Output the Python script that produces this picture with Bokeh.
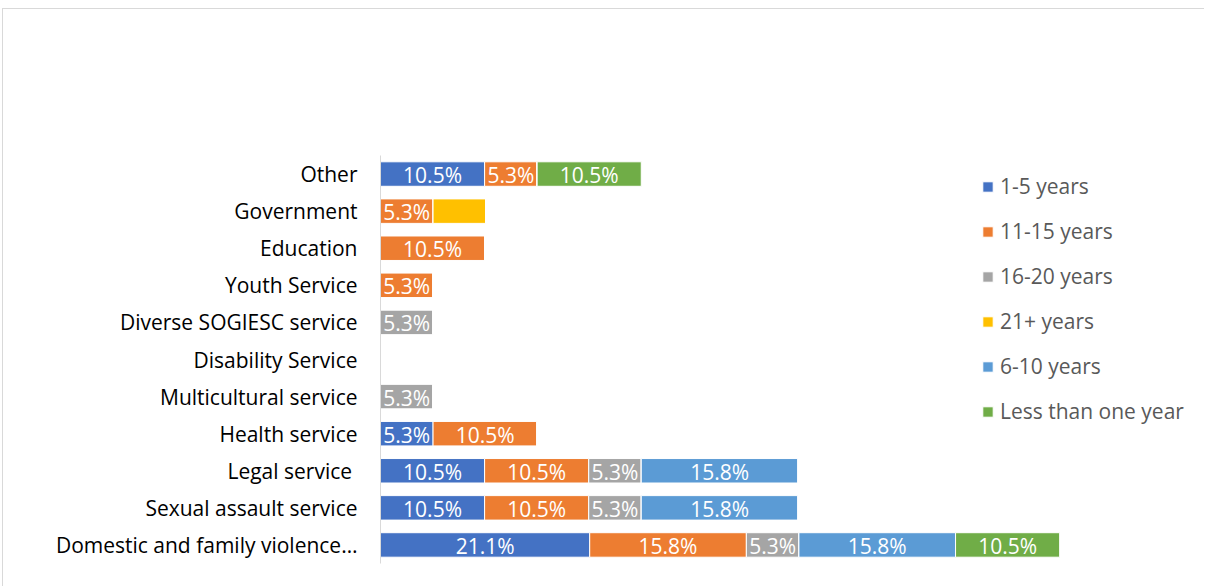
from bokeh.plotting import figure
from bokeh.models import FactorRange, ColumnDataSource, LabelSet, Legend, LegendItem, Range1d
from bokeh.core.properties import value
from bokeh.embed import file_html
from bokeh.resources import INLINE

# Categories (bottom to top)
categories = ["Domestic and family violence\u2026", "Sexual assault service", "Legal service ",
              "Health service", "Multicultural service", "Disability Service",
              "Diverse SOGIESC service", "Youth Service", "Education", "Government", "Other"]

series_names = ["1-5 years", "11-15 years", "16-20 years", "21+ years", "6-10 years", "Less than one year"]
colors = ["#4472C4", "#ED7D31", "#A5A5A5", "#FFC000", "#5B9BD5", "#70AD47"]

y1_5 =   [21.1, 10.5, 10.5, 5.3, 0, 0, 0, 0, 0, 0, 10.5]
y11_15 = [15.8, 10.5, 10.5, 10.5, 0, 0, 0, 5.3, 10.5, 5.3, 5.3]
y16_20 = [5.3, 5.3, 5.3, 0, 5.3, 0, 5.3, 0, 0, 0, 0]
y21p =   [0, 0, 0, 0, 0, 0, 0, 0, 0, 5.3, 0]
y6_10 =  [15.8, 15.8, 15.8, 0, 0, 0, 0, 0, 0, 0, 0]
ylt1 =   [10.5, 0, 0, 0, 0, 0, 0, 0, 0, 0, 10.5]
# which series show data labels
show_labels = [True, True, True, False, True, True]

series_vals = [y1_5, y11_15, y16_20, y21p, y6_10, ylt1]
keys = ["s%d" % i for i in range(len(series_names))]

data = {"cat": categories}
for k, v in zip(keys, series_vals):
    data[k] = v
source = ColumnDataSource(data)

FONT = "Open Sans"
W, H = 1202, 578

p = figure(y_range=FactorRange(*categories, range_padding=0), x_range=Range1d(0, 82.2),
           width=W, height=H, output_backend="svg", toolbar_location=None,
           min_border_left=377, min_border_right=10, min_border_top=146, min_border_bottom=24)
p.styles = {"border-left": "1px solid #d9d9d9", "border-top": "1px solid #d9d9d9",
            "margin-left": "2px", "margin-top": "8px"}
p.y_range.factor_padding = 0
p.y_range.range_padding = 0

renderers = p.hbar_stack(keys, y="cat", height=0.66, color=colors, source=source,
                         line_color="white", line_width=1)

# data labels
lx, ly, lt = [], [], []
for i, cat in enumerate(categories):
    left = 0.0
    for s, vals in enumerate(series_vals):
        v = vals[i]
        if v > 0 and show_labels[s]:
            lx.append(left + v / 2)
            ly.append(cat)
            lt.append("%.1f%%" % v)
        left += v
lsrc = ColumnDataSource(dict(x=lx, y=ly, t=lt))
labels = LabelSet(x="x", y="y", text="t", source=lsrc, text_align="center", text_baseline="middle",
                  text_color="white", text_font=value(FONT), text_font_size="21px", y_offset=-1)
p.add_layout(labels)

legend = Legend(items=[LegendItem(label=n, renderers=[r]) for n, r in zip(series_names, renderers)],
                location=(601, 138), orientation="vertical")
legend.glyph_width = 13
legend.glyph_height = 13
legend.label_height = 20
legend.spacing = 17
legend.padding = 0
legend.margin = 0
legend.label_standoff = 6
legend.border_line_color = None
legend.background_fill_alpha = 0
legend.label_text_font = FONT
legend.label_text_font_size = "21px"
legend.label_text_color = "#595959"
p.add_layout(legend, "center")

p.xaxis.visible = False
p.xgrid.visible = False
p.ygrid.visible = False
p.outline_line_color = None
p.yaxis.axis_line_color = "#d9d9d9"
p.yaxis.axis_line_width = 1
p.yaxis.major_tick_line_color = None
p.yaxis.minor_tick_line_color = None
p.yaxis.major_label_standoff = 17
p.yaxis.major_label_text_font = FONT
p.yaxis.major_label_text_font_size = "21px"
p.yaxis.major_label_text_color = "#000000"

open("out.html", "w").write(file_html(p, INLINE))
